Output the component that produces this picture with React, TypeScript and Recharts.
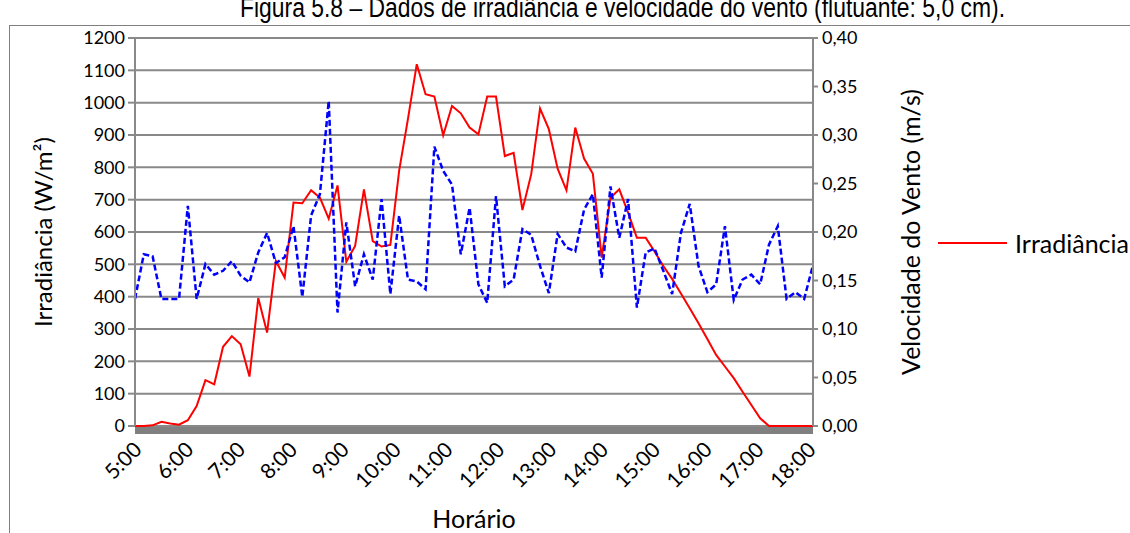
import React from 'react';
import { LineChart, Line, XAxis, YAxis, CartesianGrid, Legend } from 'recharts';

// Irradiância (W/m²), amostras sucessivas entre 5:00 e 18:00
const irradiance = [
  0, 0, 2, 13, 8, 4, 18, 62, 142, 129,
  245, 278, 253, 153, 396, 289, 510, 459, 691, 689,
  729, 706, 641, 744, 508, 557, 732, 572, 555, 560,
  790, 950, 1119, 1026, 1019, 899, 990, 967, 923, 902,
  1019, 1019, 835, 845, 668, 779, 982, 918, 796, 729,
  923, 827, 780, 521, 706, 732, 660, 582, 582, 540,
  495, 455, 410, 364, 318, 269, 220, 184, 148, 106,
  65, 24, 0, 0, 0, 0, 0, 0,
];

// Velocidade do vento (m/s)
const windSpeed = [
  0.131, 0.177, 0.175, 0.131, 0.131, 0.131, 0.227, 0.131, 0.167, 0.156,
  0.16, 0.17, 0.155, 0.148, 0.179, 0.199, 0.168, 0.174, 0.206, 0.133,
  0.217, 0.239, 0.335, 0.117, 0.21, 0.144, 0.177, 0.151, 0.234, 0.136,
  0.217, 0.151, 0.149, 0.141, 0.288, 0.263, 0.249, 0.177, 0.225, 0.146,
  0.127, 0.237, 0.144, 0.151, 0.203, 0.197, 0.165, 0.137, 0.198, 0.184,
  0.18, 0.223, 0.239, 0.153, 0.247, 0.194, 0.234, 0.122, 0.179, 0.183,
  0.16, 0.136, 0.199, 0.229, 0.165, 0.138, 0.146, 0.206, 0.13, 0.151,
  0.156, 0.146, 0.187, 0.206, 0.131, 0.138, 0.131, 0.166,
];

const hours = [5, 6, 7, 8, 9, 10, 11, 12, 13, 14, 15, 16, 17, 18];
const hourLabels = ['5:00', '6:00', '7:00', '8:00', '9:00', '10:00', '11:00', '12:00', '13:00', '14:00', '15:00', '16:00', '17:00', '18:00'];
const irrTicks = [0, 100, 200, 300, 400, 500, 600, 700, 800, 900, 1000, 1100, 1200];
const windTicks = [0, 0.05, 0.1, 0.15, 0.2, 0.25, 0.3, 0.35, 0.4];

// the samples run from the 5:00 label to the 18:00 label
const lastIndex = irradiance.length - 1;
const hourTickIndex = hours.map((h) => ((h - hours[0]) * lastIndex) / (hours[hours.length - 1] - hours[0]));

const data = irradiance.map((v, i) => ({ n: i, irr: v, wind: windSpeed[i] }));

const FONT = "Lato, 'Open Sans', sans-serif";
const GRID = '#898989';

const HourTick = (props: any) => {
  const { x, y, index } = props;
  const ax = x + 8 - index * 0.3;
  const ay = y + 25;
  return (
    <text x={ax} y={ay} transform={`rotate(-45, ${ax}, ${ay})`} textAnchor="end" fontFamily={FONT} fontSize={21} fill="#000">
      {hourLabels[index]}
    </text>
  );
};

const LeftTitle = (props: any) => {
  const vb = props.viewBox;
  const cx = vb.x + 42;
  const cy = vb.y + vb.height / 2;
  return (
    <text x={cx} y={cy} transform={`rotate(-90, ${cx}, ${cy})`} textAnchor="middle" dominantBaseline="central" fontFamily={FONT} fontSize={24} fill="#000">
      Irradiância (W/m²)
    </text>
  );
};

const RightTitle = (props: any) => {
  const vb = props.viewBox;
  const cx = vb.x + 97;
  const cy = vb.y + vb.height / 2;
  return (
    <text x={cx} y={cy} transform={`rotate(-90, ${cx}, ${cy})`} textAnchor="middle" dominantBaseline="central" fontFamily={FONT} fontSize={25} fill="#000">
      Velocidade do Vento (m/s)
    </text>
  );
};

const BottomTitle = (props: any) => {
  const vb = props.viewBox;
  return (
    <text x={vb.x + vb.width / 2} y={528} textAnchor="middle" fontFamily={FONT} fontSize={25} fill="#000">
      Horário
    </text>
  );
};

const LegendContent = (props: any) => {
  const items = (props.payload || []).filter((p: any) => p.type !== 'none');
  return (
    <div>
      {items.map((p: any) => (
        <div key={p.value} style={{ display: 'flex', alignItems: 'center', height: 28 }}>
          <svg width={80} height={10} style={{ display: 'block' }}>
            <line x1={3} y1={5} x2={72} y2={5} stroke={p.color} strokeWidth={2} />
          </svg>
          <span style={{ fontFamily: FONT, fontSize: 25, color: '#000', whiteSpace: 'nowrap', lineHeight: '28px' }}>{p.value}</span>
        </div>
      ))}
    </div>
  );
};

export default function App() {
  return (
    <div style={{ position: 'absolute', left: 0, top: 0, width: 1130, height: 533, overflow: 'hidden', background: '#fff' }}>
      <svg width={1130} height={30} style={{ position: 'absolute', left: 0, top: 0 }}>
        <text x={240} y={17} textLength={765} lengthAdjust="spacingAndGlyphs" fontFamily="'Liberation Sans', Arial, sans-serif" fontSize={27} fill="#000">
          Figura 5.8 – Dados de irradiância e velocidade do vento (flutuante: 5,0 cm).
        </text>
      </svg>
      <div style={{ position: 'absolute', left: 9, top: 25, width: 1130, height: 520, border: '1px solid #7f7f7f', boxSizing: 'border-box' }} />
      <div style={{ position: 'absolute', left: 0, top: 0 }}>
        <LineChart width={1130} height={533} data={data} margin={{ top: 38, right: 0, bottom: 0, left: 0 }}>
          <CartesianGrid yAxisId="irr" vertical={false} stroke={GRID} strokeWidth={2} />
          <XAxis
            dataKey="n"
            type="number"
            domain={[0, lastIndex]}
            ticks={hourTickIndex}
            interval={0}
            height={107}
            tickLine={false}
            tickSize={0}
            tickMargin={0}
            axisLine={{ stroke: '#808080', strokeWidth: 7, transform: 'translate(0, 4.5)' }}
            tick={<HourTick />}
            label={BottomTitle}
          />
          <YAxis
            yAxisId="irr"
            orientation="left"
            width={135}
            domain={[0, 1200]}
            ticks={irrTicks}
            interval={0}
            tickSize={7}
            tickMargin={3}
            axisLine={{ stroke: GRID, strokeWidth: 2 }}
            tickLine={{ stroke: GRID, strokeWidth: 2 }}
            tick={{ fontFamily: FONT, fontSize: 18, fill: '#000' }}
            label={LeftTitle}
          />
          <YAxis
            yAxisId="wind"
            orientation="right"
            width={122}
            domain={[0, 0.4]}
            ticks={windTicks}
            interval={0}
            tickSize={5}
            tickMargin={4}
            axisLine={{ stroke: GRID, strokeWidth: 2 }}
            tickLine={{ stroke: GRID, strokeWidth: 2 }}
            tickFormatter={(v: number) => v.toFixed(2).replace('.', ',')}
            tick={{ fontFamily: FONT, fontSize: 18, fill: '#000' }}
            label={RightTitle}
          />
          <Legend
            layout="vertical"
            align="right"
            verticalAlign="middle"
            width={195}
            wrapperStyle={{ top: 229 }}
            content={<LegendContent />}
          />
          <Line
            yAxisId="irr"
            type="linear"
            dataKey="irr"
            name="Irradiância"
            stroke="#ff0000"
            strokeWidth={2}
            dot={false}
            activeDot={false}
            isAnimationActive={false}
          />
          <Line
            yAxisId="wind"
            type="linear"
            dataKey="wind"
            name="Velocidade do Vento"
            stroke="#0000ff"
            strokeWidth={2.5}
            strokeDasharray="6 3"
            dot={false}
            activeDot={false}
            legendType="none"
            isAnimationActive={false}
          />
        </LineChart>
      </div>
    </div>
  );
}
